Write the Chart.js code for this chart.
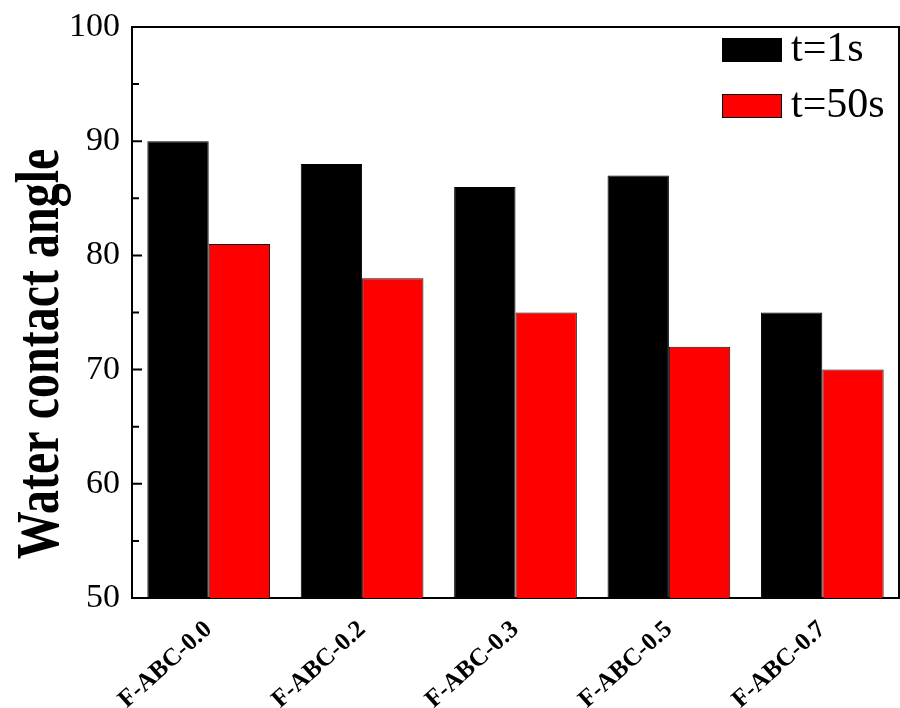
<!DOCTYPE html>
<html>
<head>
<meta charset="utf-8">
<script src="https://cdn.jsdelivr.net/npm/chart.js@4"></script>
</head>
<body style="margin:0">
<canvas id="wcaChart" width="900" height="708"></canvas>
<script>
const samples = ['F-ABC-0.0', 'F-ABC-0.2', 'F-ABC-0.3', 'F-ABC-0.5', 'F-ABC-0.7'];
const angle1s = [90, 88, 86, 87, 75];
const angle50s = [81, 78, 75, 72, 70];
const yTicks = [50, 60, 70, 80, 90, 100];
const yMinorTicks = [55, 65, 75, 85, 95];
const yTitle = 'Water contact angle';

const serif = '"Liberation Serif", "Times New Roman", serif';

// frame, inward ticks on the left axis, axis title and the legend inside the plot
const frameAndLegend = {
    id: 'frameAndLegend',
    afterDraw(chart) {
        const c = chart.ctx;
        const a = chart.chartArea;
        const y = chart.scales.y;
        c.save();
        c.strokeStyle = '#000';
        c.lineWidth = 2;
        c.beginPath();
        c.moveTo(a.left, a.top);
        c.lineTo(a.right, a.top);
        c.lineTo(a.right, a.bottom);
        c.stroke();
        c.beginPath();
        yTicks.forEach(v => {
            const py = y.getPixelForValue(v);
            c.moveTo(a.left, py);
            c.lineTo(a.left + 10, py);
        });
        yMinorTicks.forEach(v => {
            const py = y.getPixelForValue(v);
            c.moveTo(a.left, py);
            c.lineTo(a.left + 7, py);
        });
        c.stroke();

        // y title (the original is a bit stretched across)
        c.save();
        c.translate(58, 354);
        c.rotate(-Math.PI / 2);
        c.scale(1, 1.28);
        c.font = 'bold 48px ' + serif;
        c.textAlign = 'center';
        c.textBaseline = 'alphabetic';
        c.fillStyle = '#000';
        c.fillText(yTitle, 0, 0);
        c.restore();

        // legend
        c.font = '42px ' + serif;
        c.textBaseline = 'middle';
        chart.data.datasets.forEach((ds, i) => {
            const bx = 722, by = 38 + i * 56;
            c.fillStyle = ds.backgroundColor;
            c.fillRect(bx, by, 60, 24);
            c.lineWidth = 1;
            c.strokeStyle = '#000';
            c.strokeRect(bx + 0.5, by + 0.5, 59, 23);
            c.fillStyle = '#000';
            c.fillText(ds.label, 791, by + 12);
        });
        c.restore();
    }
};

new Chart(document.getElementById('wcaChart'), {
    type: 'bar',
    data: {
        labels: samples,
        datasets: [
            {
                label: 't=1s',
                data: angle1s,
                backgroundColor: '#000000',
                borderColor: '#000',
                borderWidth: 1
            },
            {
                label: 't=50s',
                data: angle50s,
                backgroundColor: '#ff0000',
                borderColor: '#111',
                borderWidth: 1
            }
        ]
    },
    options: {
        responsive: false,
        animation: false,
        layout: { padding: { left: 0, top: 27, right: 1, bottom: 0 } },
        plugins: {
            legend: { display: false },
            tooltip: { enabled: false }
        },
        datasets: {
            bar: { categoryPercentage: 0.8, barPercentage: 1.0 }
        },
        scales: {
            x: {
                grid: { display: false, drawTicks: false },
                border: { display: true, color: '#000', width: 2 },
                ticks: {
                    autoSkip: false,
                    minRotation: 42,
                    maxRotation: 42,
                    padding: 17,
                    color: '#000',
                    font: { family: serif, size: 25, weight: 'bold' }
                },
                afterFit(scale) {
                    scale.height = 110;
                    scale.paddingLeft = 0;
                    scale.paddingRight = 0;
                }
            },
            y: {
                min: 50,
                max: 100,
                grid: { display: false, drawTicks: false },
                border: { display: true, color: '#000', width: 2 },
                ticks: {
                    stepSize: 10,
                    padding: 12,
                    color: '#000',
                    font: { family: serif, size: 34 }
                },
                afterFit(scale) {
                    scale.width = 132;
                    scale.paddingTop = 0;
                    scale.paddingBottom = 0;
                }
            }
        }
    },
    plugins: [frameAndLegend]
});
</script>
</body>
</html>
